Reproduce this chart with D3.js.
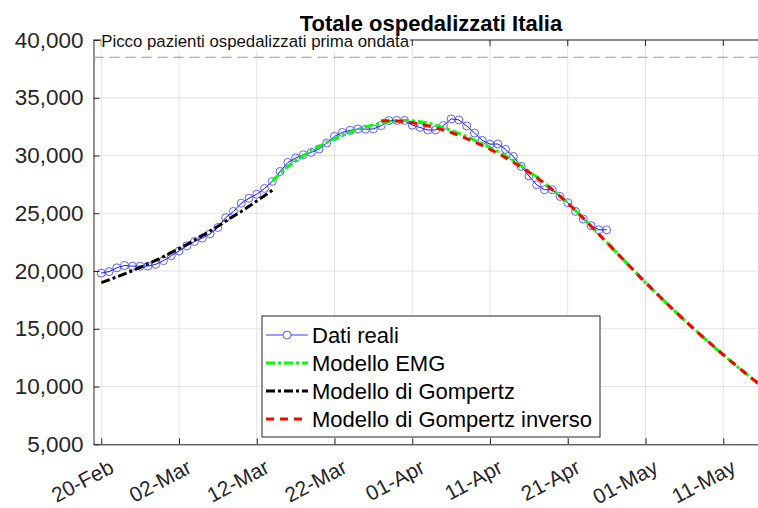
<!DOCTYPE html>
<html>
<head>
<meta charset="utf-8">
<script src="https://cdn.jsdelivr.net/npm/d3@7"></script>
<style>
    body { margin: 0; background: #fff; }
    svg { display: block; font-family: "Liberation Sans", Arial, sans-serif; }
</style>
</head>
<body>
<div id="graphic"></div>
<script>
// Dati reali: totale ospedalizzati dal 20-Feb al 26-Apr
var datiReali = [19820, 19950, 20280, 20480, 20420, 20420, 20430, 20580, 20900,
    21320, 21730, 22180, 22560, 22850, 23220, 23770, 24620, 25160, 25870,
    26300, 26650, 27150, 27760, 28620, 29400, 29790, 30070, 30270, 30560,
    31080, 31660, 32000, 32180, 32300, 32280, 32300, 32580, 33020, 33040, 33040,
    32630, 32430, 32210, 32210, 32580, 33170, 33080, 32560, 31950, 31310,
    30980, 31000, 30530, 29920, 29060, 28230, 27470, 27040, 27040, 26460,
    25910, 25160, 24500, 23920, 23570, 23570];
var inizioDati = '2021-02-20';

// Modello di Gompertz (20-Feb .. 14-Mar)
var gompertz = [19000, 19240, 19490, 19750, 20020, 20310, 20610, 20920, 21250,
    21590, 21940, 22300, 22680, 23070, 23470, 23880, 24310, 24750, 25160,
    25600, 26060, 26520, 26990];
var inizioGompertz = '2021-02-20';

// Modello EMG (14-Mar .. 17-May)
var emg = [27780, 28480, 29050, 29560, 30000, 30400, 30780, 31130, 31460, 31760,
    32030, 32270, 32480, 32660, 32810, 32930, 33010, 33040, 33010, 32930,
    32810, 32630, 32420, 32180, 31920, 31640, 31340, 31030, 30700, 30350,
    29970, 29560, 29120, 28650, 28150, 27620, 27060, 26480, 25880, 25230,
    24560, 23880, 23190, 22490, 21790, 21090, 20390, 19690, 19000, 18330,
    17670, 17020, 16380, 15750, 15130, 14520, 13920, 13330, 12750, 12180,
    11620, 11070, 10530, 10000, 9480];
var inizioEmg = '2021-03-14';

// Modello di Gompertz inverso (28-Mar .. 17-May)
var gompertzInv = [33020, 33020, 32990, 32930, 32840, 32720, 32580, 32410, 32210,
    31990, 31740, 31470, 31180, 30870, 30540, 30190, 29820, 29420, 29000,
    28560, 28090, 27590, 27050, 26480, 25890, 25230, 24560, 23880, 23190,
    22490, 21790, 21090, 20390, 19690, 19000, 18330, 17670, 17020, 16380,
    15750, 15130, 14520, 13920, 13330, 12750, 12180, 11620, 11070, 10530,
    10000, 9480];
var inizioGompertzInv = '2021-03-28';

var piccoPrimaOndata = 38507;

var yTicks = [5000, 10000, 15000, 20000, 25000, 30000, 35000, 40000];
var xTicks = ['2021-02-20', '2021-03-02', '2021-03-12', '2021-03-22', '2021-04-01',
    '2021-04-11', '2021-04-21', '2021-05-01', '2021-05-11'];

var legendItems = ['Dati reali', 'Modello EMG', 'Modello di Gompertz', 'Modello di Gompertz inverso'];

// Variables
var W = 758, H = 508;
var margin = {top: 40, left: 93.5, bottom: 444.3};
var parseDate = d3.utcParse('%Y-%m-%d');
var formatTick = d3.utcFormat('%d-%b');

// serie con date
function conDate(valori, inizio) {
    var giorni = d3.utcDay.range(parseDate(inizio), d3.utcDay.offset(parseDate(inizio), valori.length));
    return valori.map(function (v, i) { return {date: giorni[i], value: v}; });
}

var xScale = d3.scaleUtc()
    .domain([parseDate('2021-02-19'), parseDate('2021-05-19')])
    .range([margin.left, margin.left + 89 * 7.775]);
var yScale = d3.scaleLinear()
    .domain([5000, 40000])
    .range([margin.bottom, margin.top]);

var svg = d3.select('#graphic')
    .append('svg')
    .attr('width', W)
    .attr('height', H);

svg.append('defs').append('clipPath').attr('id', 'clip')
    .append('rect')
    .attr('x', margin.left).attr('y', margin.top)
    .attr('width', W - margin.left).attr('height', margin.bottom - margin.top);

// Griglia
var grid = svg.append('g').attr('class', 'grid');
grid.selectAll('.gx')
    .data(xTicks)
    .enter().append('line')
    .attr('x1', function (d) { return xScale(parseDate(d)); })
    .attr('x2', function (d) { return xScale(parseDate(d)); })
    .attr('y1', margin.top).attr('y2', margin.bottom)
    .attr('stroke', '#e3e3e3').attr('stroke-width', 1);
grid.selectAll('.gy')
    .data(yTicks)
    .enter().append('line')
    .attr('x1', margin.left).attr('x2', W)
    .attr('y1', function (d) { return yScale(d); })
    .attr('y2', function (d) { return yScale(d); })
    .attr('stroke', '#e3e3e3').attr('stroke-width', 1);

// Assi
var xAxis = d3.axisBottom(xScale)
    .tickValues(xTicks.map(parseDate))
    .tickFormat(formatTick)
    .tickSizeInner(-6).tickSizeOuter(0);
var gx = svg.append('g')
    .attr('class', 'axis')
    .attr('transform', 'translate(0,' + margin.bottom + ')')
    .call(xAxis);
gx.select('.domain').attr('stroke', '#262626');
gx.selectAll('.tick line').attr('stroke', '#262626');
gx.selectAll('.tick text')
    .attr('fill', '#262626')
    .style('font-size', '21px')
    .attr('text-anchor', 'end')
    .attr('y', 0).attr('dy', '0.35em')
    .attr('transform', 'translate(10,21) rotate(-28)');

var yAxis = d3.axisLeft(yScale)
    .tickValues(yTicks)
    .tickFormat(d3.format(','))
    .tickSizeInner(-6).tickSizeOuter(0)
    .tickPadding(10);
var gy = svg.append('g')
    .attr('class', 'axis')
    .attr('transform', 'translate(' + margin.left + ',0)')
    .call(yAxis);
gy.select('.domain').attr('stroke', '#262626');
gy.selectAll('.tick line').attr('stroke', '#262626');
gy.selectAll('.tick text')
    .attr('fill', '#262626')
    .style('font-size', '22.5px');

// bordo superiore
svg.append('line')
    .attr('x1', margin.left).attr('x2', W)
    .attr('y1', margin.top).attr('y2', margin.top)
    .attr('stroke', '#262626');
svg.append('g').selectAll('line')
    .data(xTicks)
    .enter().append('line')
    .attr('x1', function (d) { return xScale(parseDate(d)); })
    .attr('x2', function (d) { return xScale(parseDate(d)); })
    .attr('y1', margin.top).attr('y2', margin.top + 6)
    .attr('stroke', '#262626');

var plot = svg.append('g').attr('clip-path', 'url(#clip)');

// Picco prima ondata
plot.append('line')
    .attr('x1', margin.left).attr('x2', W)
    .attr('y1', yScale(piccoPrimaOndata)).attr('y2', yScale(piccoPrimaOndata))
    .attr('stroke', '#7aa58a').attr('stroke-width', 1.2)
    .attr('stroke-dasharray', '10,6');
var etichetta = svg.append('g');
var sfondo = etichetta.append('rect').attr('fill', '#fff');
var testoPicco = etichetta.append('text')
    .attr('x', xScale(parseDate('2021-02-20')))
    .attr('y', yScale(piccoPrimaOndata) - 10)
    .style('font-size', '16.8px')
    .attr('fill', '#111')
    .text('Picco pazienti ospedalizzati prima ondata');
var bb = testoPicco.node().getBBox();
sfondo.attr('x', bb.x).attr('y', bb.y).attr('width', bb.width).attr('height', bb.height);

var line = d3.line()
    .x(function (d) { return xScale(d.date); })
    .y(function (d) { return yScale(d.value); });

var reali = conDate(datiReali, inizioDati);

// Dati reali
plot.append('path')
    .datum(reali)
    .attr('d', line)
    .attr('fill', 'none')
    .attr('stroke', '#1010ff').attr('stroke-width', 1);
plot.selectAll('.marker')
    .data(reali)
    .enter().append('circle')
    .attr('cx', function (d) { return xScale(d.date); })
    .attr('cy', function (d) { return yScale(d.value); })
    .attr('r', 4)
    .attr('fill', 'none')
    .attr('stroke', '#3a3aff').attr('stroke-width', 0.8);

// Modelli
plot.append('path')
    .datum(conDate(emg, inizioEmg))
    .attr('d', line)
    .attr('fill', 'none')
    .attr('stroke', '#00ff00').attr('stroke-width', 3)
    .attr('stroke-dasharray', '9,3,3,3');
plot.append('path')
    .datum(conDate(gompertz, inizioGompertz))
    .attr('d', line)
    .attr('fill', 'none')
    .attr('stroke', '#000').attr('stroke-width', 3)
    .attr('stroke-dasharray', '9,3,3,3');
plot.append('path')
    .datum(conDate(gompertzInv, inizioGompertzInv))
    .attr('d', line)
    .attr('fill', 'none')
    .attr('stroke', '#ff0000').attr('stroke-width', 3)
    .attr('stroke-dasharray', '8,6');

// Titolo
svg.append('text')
    .attr('x', 431).attr('y', 31)
    .attr('text-anchor', 'middle')
    .style('font-size', '22px')
    .style('font-weight', 'bold')
    .text('Totale ospedalizzati Italia');

// Legenda
var legend = svg.append('g').attr('transform', 'translate(262,316)');
legend.append('rect')
    .attr('width', 338).attr('height', 121)
    .attr('fill', '#fff')
    .attr('stroke', '#262626').attr('stroke-width', 1);
var stili = [
    {color: '#3a3aff', dash: null, width: 1},
    {color: '#00ff00', dash: '9,3,3,3', width: 3},
    {color: '#000', dash: '9,3,3,3', width: 3},
    {color: '#ff0000', dash: '8,6', width: 3}
];
var righe = legend.selectAll('.voce')
    .data(legendItems)
    .enter().append('g')
    .attr('transform', function (d, i) { return 'translate(0,' + (19 + i * 28) + ')'; });
righe.append('line')
    .attr('x1', 4).attr('x2', 46)
    .attr('stroke', function (d, i) { return stili[i].color; })
    .attr('stroke-width', function (d, i) { return stili[i].width; })
    .attr('stroke-dasharray', function (d, i) { return stili[i].dash; });
righe.filter(function (d, i) { return i === 0; })
    .append('circle')
    .attr('cx', 25).attr('r', 4)
    .attr('fill', '#fff')
    .attr('stroke', '#3a3aff').attr('stroke-width', 0.8);
righe.append('text')
    .attr('x', 50).attr('dy', '0.35em')
    .style('font-size', '22px')
    .attr('fill', '#000')
    .text(function (d) { return d; });
</script>
</body>
</html>
